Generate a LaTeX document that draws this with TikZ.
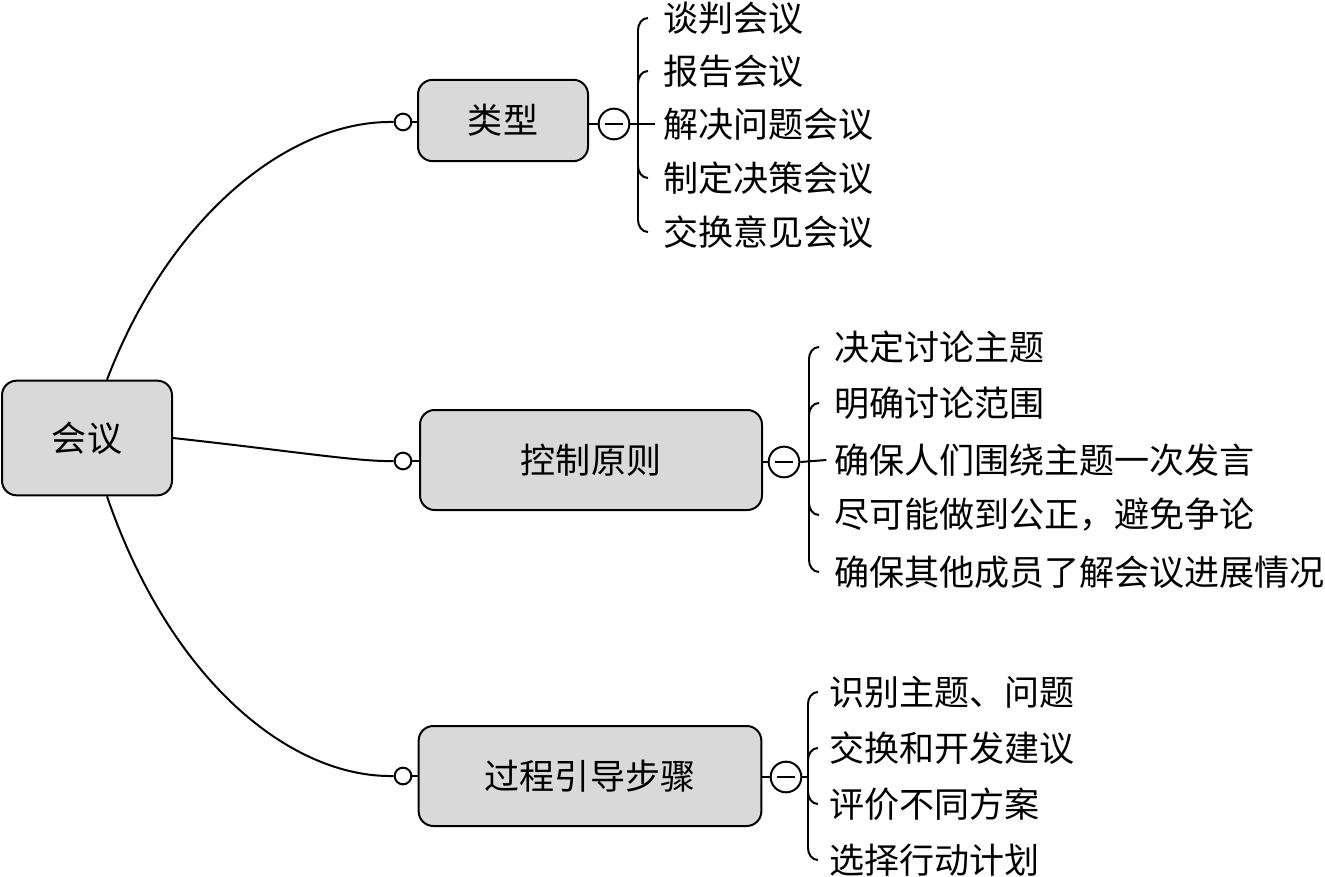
\documentclass[tikz,border=0pt]{standalone}
\usepackage{fontspec}
\setmainfont{Noto Sans CJK SC}
\usetikzlibrary{calc}
\definecolor{boxgray}{RGB}{217,217,217}
\newcommand\fs{\fontsize{26.3}{30}\selectfont}
\begin{document}
\begin{tikzpicture}[x=0.75pt,y=-0.75pt,line width=1.5pt,
 box/.style={draw,fill=boxgray,rounded corners=11pt,font=\fs,inner sep=0pt},
 dot/.style={circle,draw,fill=white,minimum size=12.5pt,inner sep=0pt,line width=1.5pt},
 minus/.style={circle,draw,fill=white,minimum size=23pt,inner sep=0pt,line width=1.5pt,
   path picture={\draw[line width=1.6pt] ([xshift=-7pt]path picture bounding box.center) -- ([xshift=7pt]path picture bounding box.center);}},
 leaf/.style={anchor=west,font=\fs,inner sep=0pt},
]
\useasboundingbox (0,0) rectangle (1325,877);
% boxes
\node[box,minimum width=127.5pt,minimum height=86pt] (root) at (87,438) {会议};
\node[box,minimum width=127.5pt,minimum height=61pt] (t) at (503,120.5) {类型};
\node[box,minimum width=256.5pt,minimum height=75pt] (c) at (591,460) {控制原则};
\node[box,minimum width=257pt,minimum height=75pt] (p) at (590,776) {过程引导步骤};
% dots
\node[dot] (td) at (403,122) {};
\node[dot] (cd) at (403,461) {};
\node[dot] (pd) at (403,776) {};
\draw (td) -- (td -| t.west);
\draw (cd) -- (cd -| c.west);
\draw (pd) -- (pd -| p.west);
% root edges
\draw ([xshift=15pt]root.north) .. controls (170,215) and (290,120) .. (td.west);
\draw (root.east) .. controls (300,452) and (360,462) .. (cd.west);
\draw ([xshift=15pt]root.south) .. controls (170,680) and (290,778) .. (pd.west);
% minus circles
\node[minus] (tm) at (614,124) {};
\node[minus] (cm) at (784,462) {};
\node[minus] (pm) at (786,777) {};
\draw (tm -| t.east) -- (tm.west);
\draw (cm -| c.east) -- (cm.west);
\draw (pm -| p.east) -- (pm.west);
% leaves: type
\node[leaf] (t1) at (662,18) {谈判会议};
\node[leaf] (t2) at (662,71) {报告会议};
\node[leaf] (t3) at (662,124) {解决问题会议};
\node[leaf] (t4) at (662,178) {制定决策会议};
\node[leaf] (t5) at (662,232) {交换意见会议};
% leaves: control
\node[leaf] (c1) at (833,347) {决定讨论主题};
\node[leaf] (c2) at (833,403) {明确讨论范围};
\node[leaf] (c3) at (833,460) {确保人们围绕主题一次发言};
\node[leaf] (c4) at (833,515) {尽可能做到公正，避免争论};
\node[leaf] (c5) at (833,572) {确保其他成员了解会议进展情况};
% leaves: process
\node[leaf] (p1) at (828,692) {识别主题、问题};
\node[leaf] (p2) at (828,748) {交换和开发建议};
\node[leaf] (p3) at (828,804) {评价不同方案};
\node[leaf] (p4) at (828,860) {选择行动计划};
% brace type (xv=638)
\coordinate (tv1) at (638,30);
\coordinate (tv5) at (638,220);
\draw (tv1) -- (tv5);
\draw (tv1) to[out=90,in=180] ($(t1.west)+(-14,0)$);
\draw ($(t2.west)+(-24,12)$) to[out=90,in=180] ($(t2.west)+(-14,0)$);
\draw ($(t4.west)+(-24,-12)$) to[out=-90,in=180] ($(t4.west)+(-14,0)$);
\draw (tv5) to[out=-90,in=180] ($(t5.west)+(-14,0)$);
\draw (tm.east) -- ([xshift=-5pt]t3.west);
% brace control (xv=809)
\coordinate (cv1) at (809,359);
\coordinate (cv5) at (809,560);
\draw (cv1) -- (cv5);
\draw (cv1) to[out=90,in=180] ($(c1.west)+(-14,0)$);
\draw ($(c2.west)+(-24,12)$) to[out=90,in=180] ($(c2.west)+(-14,0)$);
\draw ($(c4.west)+(-24,-12)$) to[out=-90,in=180] ($(c4.west)+(-14,0)$);
\draw (cv5) to[out=-90,in=180] ($(c5.west)+(-14,0)$);
\draw (cm.east) -- ([xshift=-5pt]c3.west);
% brace process (xv=808)
\coordinate (pv1) at (808,704);
\coordinate (pv4) at (808,848);
\draw (pv1) -- (pv4);
\draw (pv1) to[out=90,in=180] ($(p1.west)+(-10,0)$);
\draw ($(p2.west)+(-20,12)$) to[out=90,in=180] ($(p2.west)+(-10,0)$);
\draw ($(p3.west)+(-20,-12)$) to[out=-90,in=180] ($(p3.west)+(-10,0)$);
\draw (pv4) to[out=-90,in=180] ($(p4.west)+(-10,0)$);
\draw (pm.east) -- (pm -| pv1);
\end{tikzpicture}
\end{document}
